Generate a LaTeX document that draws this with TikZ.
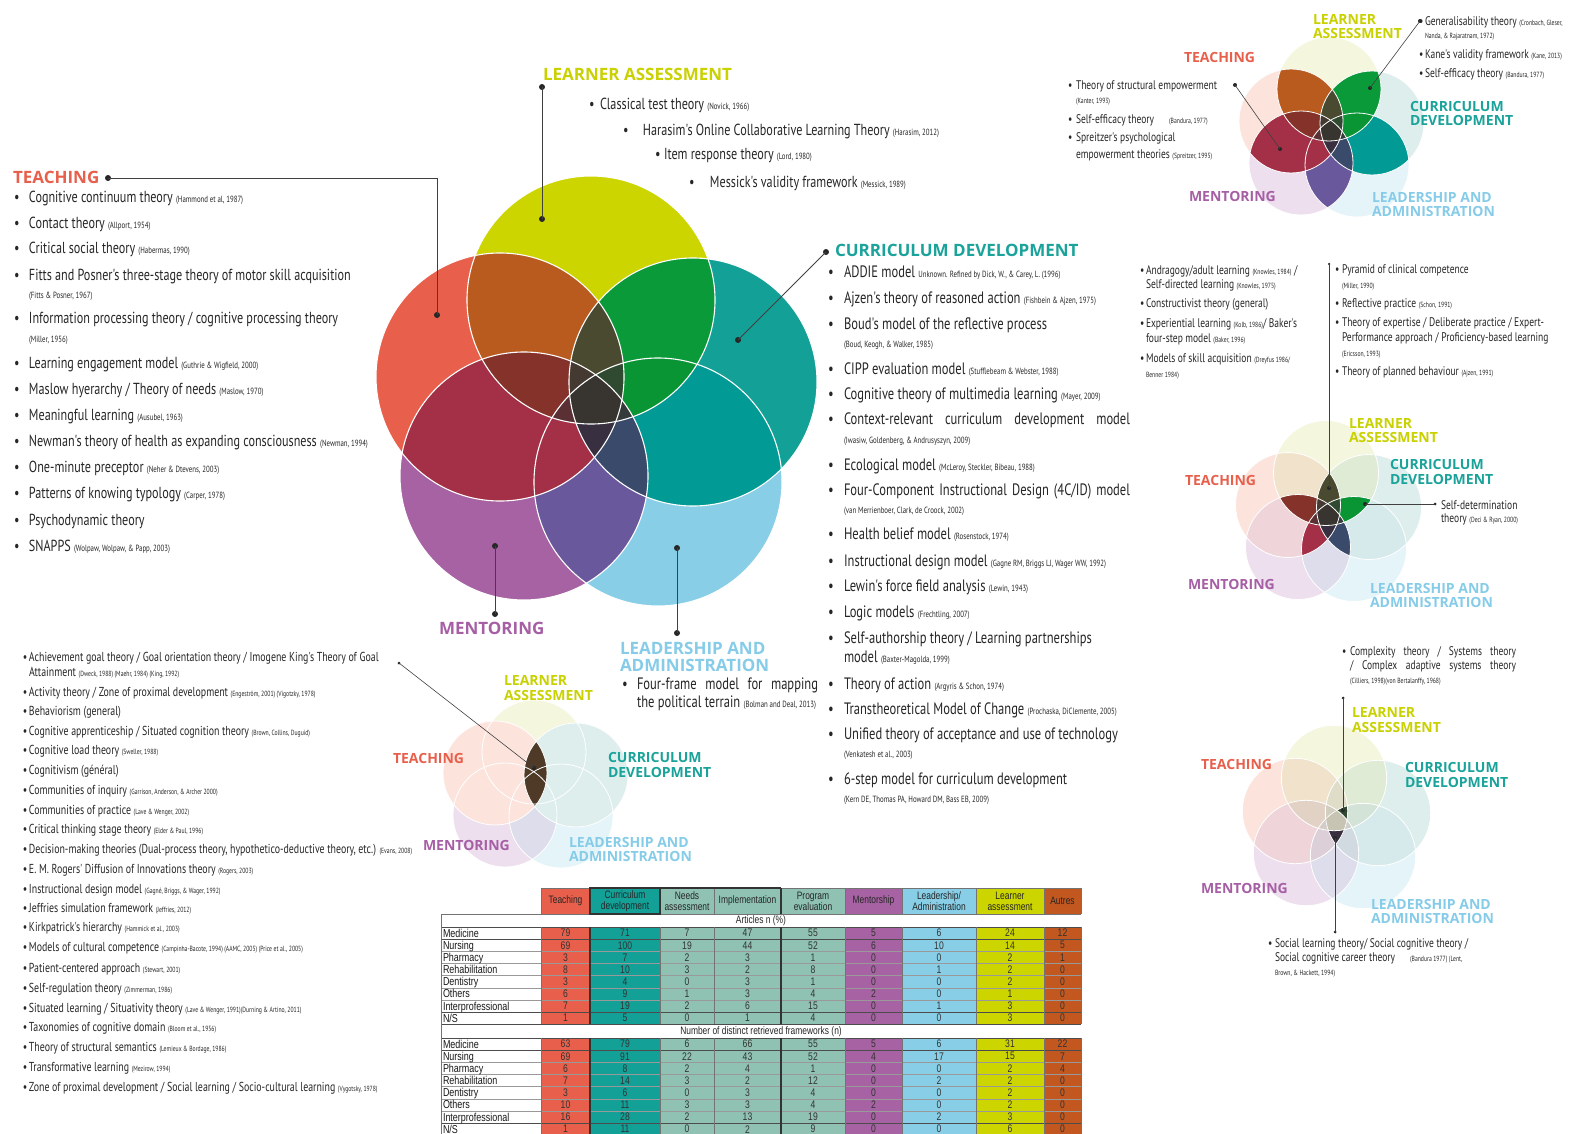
\documentclass[tikz,border=0pt]{standalone}
\usepackage{fontspec}
\setmainfont{PT Sans}
\newfontfamily\lstf[FakeStretch=0.76]{PT Sans}
\newfontfamily\hdf{Open Sans}
\newfontfamily\tabf[FakeStretch=0.78]{Liberation Sans}
\usetikzlibrary{calc}

% saturated palette: single areas and overlaps
\definecolor{SR}{HTML}{E8604C}\definecolor{SY}{HTML}{CDD500}\definecolor{ST}{HTML}{12A097}
\definecolor{SB}{HTML}{87CEE6}\definecolor{SP}{HTML}{A662A2}
\definecolor{SRY}{HTML}{B95A1F}\definecolor{SYT}{HTML}{0B9A3A}\definecolor{STB}{HTML}{019A94}
\definecolor{SBP}{HTML}{6A589C}\definecolor{SPR}{HTML}{A33046}
\definecolor{SRT}{HTML}{4A4A30}\definecolor{SYB}{HTML}{0A9535}\definecolor{STP}{HTML}{3A4A6A}
\definecolor{SBR}{HTML}{A33046}\definecolor{SPY}{HTML}{85322A}
\definecolor{SRYT}{HTML}{4A4A30}\definecolor{SYTB}{HTML}{0A9535}\definecolor{STBP}{HTML}{3A4A6A}
\definecolor{SBPR}{HTML}{A33046}\definecolor{SPRY}{HTML}{85322A}
\definecolor{SRYB}{HTML}{4A3A35}\definecolor{SYTP}{HTML}{3F4235}\definecolor{STBR}{HTML}{353A45}
\definecolor{SBPY}{HTML}{5A3535}\definecolor{SPRT}{HTML}{4A3530}
\definecolor{SRYTB}{HTML}{2F4A30}\definecolor{SYTBP}{HTML}{353A3A}\definecolor{STBPR}{HTML}{383040}
\definecolor{SBPRY}{HTML}{5A3035}\definecolor{SPRYT}{HTML}{443A32}
\definecolor{SALL}{HTML}{383530}
% pale palette
\definecolor{LR}{HTML}{FCE4DD}\definecolor{LY}{HTML}{F4F6DE}\definecolor{LT}{HTML}{DDEEEC}
\definecolor{LB}{HTML}{E5F4F9}\definecolor{LP}{HTML}{EDDFEE}
\definecolor{LRY}{HTML}{F1E2CC}\definecolor{LYT}{HTML}{E0EBD6}\definecolor{LTB}{HTML}{D6EAEC}
\definecolor{LBP}{HTML}{DEDDEB}\definecolor{LPR}{HTML}{EFD4DA}
\definecolor{LRT}{HTML}{E6E3D8}\definecolor{LYB}{HTML}{E2EDE6}\definecolor{LTP}{HTML}{DAE0E4}
\definecolor{LBR}{HTML}{E6DCE0}\definecolor{LPY}{HTML}{EAE0D8}
\definecolor{LRYT}{HTML}{DFDCC8}\definecolor{LYTB}{HTML}{D3E3D8}\definecolor{LTBP}{HTML}{D0DAE0}
\definecolor{LBPR}{HTML}{DCCFD8}\definecolor{LPRY}{HTML}{E2D2C6}
\definecolor{LRYB}{HTML}{DCD6CC}\definecolor{LYTP}{HTML}{D6DACC}\definecolor{LTBR}{HTML}{D2D8D8}
\definecolor{LBPY}{HTML}{DAD4D8}\definecolor{LPRT}{HTML}{DCD2CC}
\definecolor{LRYTB}{HTML}{CED4C4}\definecolor{LYTBP}{HTML}{CCD0CC}\definecolor{LTBPR}{HTML}{CFCCD0}
\definecolor{LBPRY}{HTML}{D4CCC8}\definecolor{LPRYT}{HTML}{D2CEC0}
\definecolor{LALL}{HTML}{C8C4B4}
% other colours
\definecolor{sage}{HTML}{8FC2B2}\definecolor{tbOr}{HTML}{C2571F}\definecolor{lensbrown}{HTML}{4F3A28}
\definecolor{cTe}{HTML}{E8604C}\definecolor{cLA}{HTML}{C9D100}\definecolor{cCD}{HTML}{1AA39A}
\definecolor{cMe}{HTML}{A65FA5}\definecolor{cAd}{HTML}{86CCE8}

\newcommand\mybul[1]{\makebox[#1pt][l]{\textbullet}}
\newcommand\rca[1]{{\fontsize{9}{9.5}\selectfont #1}}
\newcommand\rcb[1]{{\fontsize{7.5}{8}\selectfont #1}}

% filled intersections of 2..5 circles of radius \vr
\newcommand\rgB[3]{\begin{scope}\clip (#2) circle[radius=\vr];\fill[fill=#1] (#3) circle[radius=\vr];\end{scope}}
\newcommand\rgC[4]{\begin{scope}\clip (#2) circle[radius=\vr];\clip (#3) circle[radius=\vr];\fill[fill=#1] (#4) circle[radius=\vr];\end{scope}}
\newcommand\rgD[5]{\begin{scope}\clip (#2) circle[radius=\vr];\clip (#3) circle[radius=\vr];\clip (#4) circle[radius=\vr];\fill[fill=#1] (#5) circle[radius=\vr];\end{scope}}
\newcommand\rgE[6]{\begin{scope}\clip (#2) circle[radius=\vr];\clip (#3) circle[radius=\vr];\clip (#4) circle[radius=\vr];\clip (#5) circle[radius=\vr];\fill[fill=#1] (#6) circle[radius=\vr];\end{scope}}
% five-circle diagram: #1 coordinate prefix, #2..#6 palette (S or L) per overlap depth
\newcommand\drawvenn[6]{%
  \foreach \ia in {R,Y,T,B,P}{\fill[fill=#2\ia] (#1\ia) circle[radius=\vr];}%
  \foreach \ia/\ib in {R/Y,Y/T,T/B,B/P,P/R,R/T,Y/B,T/P,B/R,P/Y}{\rgB{#3\ia\ib}{#1\ia}{#1\ib}}%
  \foreach \ia/\ib/\ic in {R/Y/T,Y/T/B,T/B/P,B/P/R,P/R/Y,R/Y/B,Y/T/P,T/B/R,B/P/Y,P/R/T}{\rgC{#4\ia\ib\ic}{#1\ia}{#1\ib}{#1\ic}}%
  \foreach \ia/\ib/\ic/\id in {R/Y/T/B,Y/T/B/P,T/B/P/R,B/P/R/Y,P/R/Y/T}{\rgD{#5\ia\ib\ic\id}{#1\ia}{#1\ib}{#1\ic}{#1\id}}%
  \rgE{#6ALL}{#1R}{#1Y}{#1T}{#1B}{#1P}%
}
\newcommand\ringvenn[1]{\foreach \ia in {R,Y,T,B,P}{\draw[white,line width=\vw] (#1\ia) circle[radius=\vr];}}

\begin{document}
\begin{tikzpicture}[x=1pt,y=-1pt,
  every node/.style={inner sep=0pt, outer sep=0pt},
  hd/.style={anchor=base west, font=\hdf\bfseries\fontsize{17}{19}\selectfont},
  hs/.style={anchor=base west, font=\hdf\bfseries\fontsize{14}{15}\selectfont},
  li/.style={anchor=base west, font=\lstf\fontsize{16}{18}\selectfont, text=black!85},
  lc/.style={anchor=base west, font=\lstf\fontsize{16.5}{18}\selectfont, text=black!85},
  lb/.style={anchor=base west, font=\lstf\fontsize{13}{15}\selectfont, text=black!85},
  lr/.style={anchor=base west, font=\lstf\fontsize{12.5}{14}\selectfont, text=black!85},
  dotm/.style={circle, fill=black!85, minimum size=6pt},
  dots/.style={circle, fill=black!85, minimum size=4pt},
  lead/.style={draw=black!75, line width=0.8pt},
  th/.style={align=center, font=\tabf\fontsize{10.8}{11}\selectfont, text=black!85},
  tl/.style={anchor=base west, font=\tabf\fontsize{11.5}{12}\selectfont, text=black!90},
  tn/.style={font=\tabf\fontsize{11}{12}\selectfont, text=black!80},
  tcol/.style={draw=black!55, line width=0.4pt},
  tgrp/.style={draw=black!80, line width=1.2pt},
  trow/.style={draw=black!40, line width=0.35pt},
]
\useasboundingbox (0,0) rectangle (1581,1134);
\fill[white] (0,0) rectangle (1581,1134);

% ===== main diagram =====
\def\vr{124pt}\def\vw{1.1pt}
\coordinate (mR) at (500,377); \coordinate (mY) at (591,300); \coordinate (mT) at (693,382);
\coordinate (mP) at (524,476); \coordinate (mB) at (658,482);
\drawvenn{m}{S}{S}{S}{S}{S}
\ringvenn{m}

% ===== small diagrams =====
\def\vr{52pt}\def\vw{0.8pt}
\coordinate (aR) at (1291,121); \coordinate (aY) at (1329,89); \coordinate (aT) at (1372,123);
\coordinate (aP) at (1301,163); \coordinate (aB) at (1357,165);
\drawvenn{a}{L}{S}{S}{S}{S}
\ringvenn{a}

\def\vr{52.5pt}
\coordinate (bR) at (1288,505); \coordinate (bY) at (1326,473); \coordinate (bT) at (1369,507);
\coordinate (bP) at (1298,547); \coordinate (bB) at (1354,549);
\drawvenn{b}{L}{L}{S}{S}{S}
\ringvenn{b}

\def\vr{52.7pt}
\coordinate (cR) at (1295,811); \coordinate (cY) at (1334,778); \coordinate (cT) at (1378,813);
\coordinate (cP) at (1306,853); \coordinate (cB) at (1363,856);
\drawvenn{c}{L}{L}{L}{L}{L}
\rgD{SRYTB}{cR}{cY}{cT}{cB}
\rgD{STBPR}{cT}{cB}{cP}{cR}
\rgE{LALL}{cR}{cY}{cT}{cB}{cP}
\ringvenn{c}

\def\vr{52pt}
\coordinate (dR) at (495,773); \coordinate (dY) at (534,752); \coordinate (dT) at (576,775);
\coordinate (dP) at (505,815); \coordinate (dB) at (561,816);
\drawvenn{d}{L}{L}{L}{L}{L}
\fill[fill=LR] (dR) circle[radius=\vr];
\fill[fill=LT] (dT) circle[radius=\vr];
\rgB{lensbrown}{dR}{dT}
\ringvenn{d}

% ===== leader lines and dots =====
\node[dotm] (dT1) at (108,178) {}; \node[dotm] (dT2) at (437,315) {};
\coordinate (kT) at (437,178);
\draw[lead] (dT1.center) -- (kT) -- (dT2.center);
\node[dotm] (dL1) at (542,87) {}; \node[dotm] (dL2) at (542,219) {};
\draw[lead] (dL1.center) -- (dL2.center);
\node[dotm] (dC1) at (826,252) {}; \node[dotm] (dC2) at (738,340) {};
\draw[lead] (dC1.center) -- (dC2.center);
\node[dotm] (dM1) at (495,546) {}; \node[dotm] (dM2) at (495,614) {};
\draw[lead] (dM1.center) -- (dM2.center);
\node[dotm] (dA1) at (677,548) {}; \node[dotm] (dA2) at (677,633) {};
\draw[lead] (dA1.center) -- (dA2.center);

\node[dots] (ea1) at (1420,21) {}; \node[dots] (ea2) at (1370,88) {};
\draw[lead, line width=0.6pt] (ea1.center) -- (ea2.center);
\node[dots] (eb1) at (1235,85) {}; \node[dots] (eb2) at (1280,149) {};
\draw[lead, line width=0.6pt] (eb1.center) -- (eb2.center);
\node[dots, minimum size=2.5pt] (fa1) at (1329,264) {}; \node[dots] (fa2) at (1329,488) {};
\draw[lead, line width=0.6pt] (fa1.center) -- (fa2.center);
\node[dots] (fb1) at (1365,504) {}; \node[dots, minimum size=3pt] (fb2) at (1435,504) {};
\draw[lead, line width=0.6pt] (fb1.center) -- (fb2.center);
\node[dots, minimum size=3pt] (ga1) at (1343,698) {}; \node[dots] (ga2) at (1343,810) {};
\draw[lead, line width=0.6pt] (ga1.center) -- (ga2.center);
\node[dots, minimum size=3pt] (gb1) at (1335,932) {}; \node[dots] (gb2) at (1335,838) {};
\draw[lead, line width=0.6pt] (gb1.center) -- (gb2.center);
\node[dots, minimum size=3pt] (ha1) at (399,663) {}; \node[dots] (ha2) at (534,768) {};
\draw[lead, line width=0.6pt] (ha1.center) -- (ha2.center);

% ===== main headings =====
\node[hd, text=cTe] (hTe) at (13,184) {TEACHING};
\node[hd, text=cLA] (hLA) at (543,81) {LEARNER ASSESSMENT};
\node[hd, text=cCD] (hCD) at (835,256) {CURRICULUM DEVELOPMENT};
\node[hd, text=cMe] (hMe) at (439,634) {MENTORING};
\node[hd, text=cAd] (hAd1) at (620,654) {LEADERSHIP AND};
\node[hd, text=cAd] (hAd2) at (620,671) {ADMINISTRATION};

% ===== small diagram labels =====
\node[hs, text=cLA] (aL1) at (1313,25) {LEARNER};
\node[hs, text=cLA] (aL2) at (1313,39) {ASSESSMENT};
\node[hs, text=cTe] (aTe) at (1184,63) {TEACHING};
\node[hs, text=cCD] (aC1) at (1410,112) {CURRICULUM};
\node[hs, text=cCD] (aC2) at (1410,126) {DEVELOPMENT};
\node[hs, text=cMe] (aMe) at (1189,201) {MENTORING};
\node[hs, text=cAd] (aA1) at (1372,202) {LEADERSHIP AND};
\node[hs, text=cAd] (aA2) at (1372,216) {ADMINISTRATION};

\node[hs, text=cLA] (bL1) at (1349,428) {LEARNER};
\node[hs, text=cLA] (bL2) at (1349,442) {ASSESSMENT};
\node[hs, text=cTe] (bTe) at (1185,485) {TEACHING};
\node[hs, text=cCD] (bC1) at (1390,469) {CURRICULUM};
\node[hs, text=cCD] (bC2) at (1390,484) {DEVELOPMENT};
\node[hs, text=cMe] (bMe) at (1188,589) {MENTORING};
\node[hs, text=cAd] (bA1) at (1370,593) {LEADERSHIP AND};
\node[hs, text=cAd] (bA2) at (1370,607) {ADMINISTRATION};

\node[hs, text=cLA] (cL1) at (1352,717) {LEARNER};
\node[hs, text=cLA] (cL2) at (1352,732) {ASSESSMENT};
\node[hs, text=cTe] (cTe) at (1201,769) {TEACHING};
\node[hs, text=cCD] (cC1) at (1405,772) {CURRICULUM};
\node[hs, text=cCD] (cC2) at (1405,787) {DEVELOPMENT};
\node[hs, text=cMe] (cMe) at (1201,893) {MENTORING};
\node[hs, text=cAd] (cA1) at (1371,909) {LEADERSHIP AND};
\node[hs, text=cAd] (cA2) at (1371,923) {ADMINISTRATION};

\node[hs, text=cLA] (dL1t) at (504,685) {LEARNER};
\node[hs, text=cLA] (dL2t) at (504,700) {ASSESSMENT};
\node[hs, text=cTe] (dTe) at (393,763) {TEACHING};
\node[hs, text=cCD] (dC1t) at (608,762) {CURRICULUM};
\node[hs, text=cCD] (dC2t) at (608,777) {DEVELOPMENT};
\node[hs, text=cMe] (dMe) at (423,850) {MENTORING};
\node[hs, text=cAd] (dA1t) at (569,847) {LEADERSHIP AND};
\node[hs, text=cAd] (dA2t) at (569,861) {ADMINISTRATION};

% ===== teaching list =====
\node[li] (t1) at (14,202) {\mybul{15}Cognitive continuum theory \rca{(Hammond et al, 1987)}};
\node[li] (t2) at (14,228) {\mybul{15}Contact theory \rca{(Allport, 1954)}};
\node[li] (t3) at (14,253) {\mybul{15}Critical social theory \rca{(Habermas, 1990)}};
\node[li] (t4) at (14,280) {\mybul{15}Fitts and Posner's three-stage theory of motor skill acquisition};
\node[li] (t4c) at (29,298) {\rca{(Fitts \& Posner, 1967)}};
\node[li] (t5) at (14,323) {\mybul{15}Information processing theory / cognitive processing theory};
\node[li] (t5c) at (29,342) {\rca{(Miller, 1956)}};
\node[li] (t6) at (14,368) {\mybul{15}Learning engagement model \rca{(Guthrie \& Wigfield, 2000)}};
\node[li] (t7) at (14,394) {\mybul{15}Maslow hyerarchy / Theory of needs \rca{(Maslow, 1970)}};
\node[li] (t8) at (14,420) {\mybul{15}Meaningful learning \rca{(Ausubel, 1963)}};
\node[li] (t9) at (14,446) {\mybul{15}Newman's theory of health as expanding consciousness \rca{(Newman, 1994)}};
\node[li] (t10) at (14,472) {\mybul{15}One-minute preceptor \rca{(Neher \& Dtevens, 2003)}};
\node[li] (t11) at (14,498) {\mybul{15}Patterns of knowing typology \rca{(Carper, 1978)}};
\node[li] (t12) at (14,525) {\mybul{15}Psychodynamic theory};
\node[li] (t13) at (14,551) {\mybul{15}SNAPPS \rca{(Wolpaw, Wolpaw, \& Papp, 2003)}};

% ===== learner assessment list =====
\node[li] (l1) at (589,110) {\mybul{11}Classical test theory \rca{(Novick, 1966)}};
\node[li] (l2) at (623,136) {\mybul{20}Harasim's Online Collaborative Learning Theory \rca{(Harasim, 2012)}};
\node[li] (l3) at (655,160) {\mybul{9}Item response theory \rca{(Lord, 1980)}};
\node[li] (l4) at (689,187) {\mybul{21}Messick's validity framework \rca{(Messick, 1989)}};

% ===== curriculum development list =====
\node[lc] (c1) at (828,277) {\mybul{16}ADDIE model \rca{Unknown. Refined by Dick, W., \& Carey, L. (1996)}};
\node[lc] (c2) at (828,303) {\mybul{16}Ajzen's theory of reasoned action \rca{(Fishbein \& Ajzen, 1975)}};
\node[lc] (c3) at (828,329) {\mybul{16}Boud's model of the reflective process};
\node[lc] (c3c) at (844,347) {\rca{(Boud, Keogh, \& Walker, 1985)}};
\node[lc] (c4) at (828,374) {\mybul{16}CIPP evaluation model \rca{(Stufflebeam \& Webster, 1988)}};
\node[lc] (c5) at (828,399) {\mybul{16}Cognitive theory of multimedia learning \rca{(Mayer, 2009)}};
\node[lc] (c6) at (828,424) {\mybul{16}\makebox[286pt][s]{Context-relevant curriculum development model}};
\node[lc] (c6c) at (844,443) {\rca{(Iwasiw, Goldenberg, \& Andrusyszyn, 2009)}};
\node[lc] (c7) at (828,470) {\mybul{16}Ecological model \rca{(McLeroy, Steckler, Bibeau, 1988)}};
\node[lc] (c8) at (828,495) {\mybul{16}\makebox[286pt][s]{Four-Component Instructional Design (4C/ID) model}};
\node[lc] (c8c) at (844,513) {\rca{(van Merrienboer, Clark, de Croock, 2002)}};
\node[lc] (c9) at (828,539) {\mybul{16}Health belief model \rca{(Rosenstock, 1974)}};
\node[lc] (c10) at (828,566) {\mybul{16}Instructional design model \rca{(Gagne RM, Briggs LJ, Wager WW, 1992)}};
\node[lc] (c11) at (828,591) {\mybul{16}Lewin's force field analysis \rca{(Lewin, 1943)}};
\node[lc] (c12) at (828,617) {\mybul{16}Logic models \rca{(Frechtling, 2007)}};
\node[lc] (c13) at (828,643) {\mybul{16}Self-authorship theory / Learning partnerships};
\node[lc] (c13b) at (844,662) {model \rca{(Baxter-Magolda, 1999)}};
\node[lc] (c14) at (828,689) {\mybul{16}Theory of action \rca{(Argyris \& Schon, 1974)}};
\node[lc] (c15) at (828,714) {\mybul{16}Transtheoretical Model of Change \rca{(Prochaska, DiClemente, 2005)}};
\node[lc] (c16) at (828,739) {\mybul{16}Unified theory of acceptance and use of technology};
\node[lc] (c16c) at (844,757) {\rca{(Venkatesh et al., 2003)}};
\node[lc] (c17) at (828,784) {\mybul{16}6-step model for curriculum development};
\node[lc] (c17c) at (844,802) {\rca{(Kern DE, Thomas PA, Howard DM, Bass EB, 2009)}};

% ===== leadership list =====
\node[lc] (ff1) at (622,689) {\mybul{15}\makebox[181pt][s]{Four-frame model for mapping}};
\node[lc] (ff1b) at (637,707) {the political terrain \rca{(Bolman and Deal, 2013)}};

% ===== list under the two-area diagram =====
\node[lb] (b1) at (23,661.5) {\mybul{6}Achievement goal theory / Goal orientation theory / Imogene King's Theory of Goal};
\node[lb] (b1b) at (29,676.5) {Attainment \rcb{(Dweck, 1988) (Maehr, 1984) (King, 1992)}};
\node[lb] (b2) at (23,696.5) {\mybul{6}Activity theory / Zone of proximal development \rcb{(Engeström, 2001) (Vigotzky, 1978)}};
\node[lb] (b3) at (23,715.5) {\mybul{6}Behaviorism (general)};
\node[lb] (b4) at (23,735.5) {\mybul{6}Cognitive apprenticeship / Situated cognition theory \rcb{(Brown, Collins, Duguid)}};
\node[lb] (b5) at (23,754.5) {\mybul{6}Cognitive load theory \rcb{(Sweller, 1988)}};
\node[lb] (b6) at (23,774.5) {\mybul{6}Cognitivism (général)};
\node[lb] (b7) at (23,794.5) {\mybul{6}Communities of inquiry \rcb{(Garrison, Anderson, \& Archer 2000)}};
\node[lb] (b8) at (23,814.5) {\mybul{6}Communities of practice \rcb{(Lave \& Wenger, 2002)}};
\node[lb] (b9) at (23,833.5) {\mybul{6}Critical thinking stage theory \rcb{(Elder \& Paul, 1996)}};
\node[lb] (b10) at (23,853.5) {\mybul{6}Decision-making theories (Dual-process theory, hypothetico-deductive theory, etc.) \rcb{(Evans, 2008)}};
\node[lb] (b11) at (23,873.5) {\mybul{6}E. M. Rogers' Diffusion of Innovations theory \rcb{(Rogers, 2003)}};
\node[lb] (b12) at (23,893.5) {\mybul{6}Instructional design model \rcb{(Gagné, Briggs, \& Wager, 1992)}};
\node[lb] (b13) at (23,912.5) {\mybul{6}Jeffries simulation framework \rcb{(Jeffries, 2012)}};
\node[lb] (b14) at (23,931.5) {\mybul{6}Kirkpatrick's hierarchy \rcb{(Hammick et al., 2003)}};
\node[lb] (b15) at (23,951.5) {\mybul{6}Models of cultural competence \rcb{(Campinha-Bacote, 1994) (AAMC, 2005) (Price et al., 2005)}};
\node[lb] (b16) at (23,972.5) {\mybul{6}Patient-centered approach \rcb{(Stewart, 2001)}};
\node[lb] (b17) at (23,992.5) {\mybul{6}Self-regulation theory \rcb{(Zimmerman, 1986)}};
\node[lb] (b18) at (23,1012.5) {\mybul{6}Situated learning / Situativity theory \rcb{(Lave \& Wenger, 1991)(Durning \& Artino, 2011)}};
\node[lb] (b19) at (23,1031.5) {\mybul{6}Taxonomies of cognitive domain \rcb{(Bloom et al., 1956)}};
\node[lb] (b20) at (23,1051.5) {\mybul{6}Theory of structural semantics \rcb{(Lemieux \& Bordage, 1986)}};
\node[lb] (b21) at (23,1071.5) {\mybul{6}Transformative learning \rcb{(Mezirow, 1994)}};
\node[lb] (b22) at (23,1091.5) {\mybul{6}Zone of proximal development / Social learning / Socio-cultural learning \rcb{(Vygotsky, 1978)}};

% ===== texts of the top right diagram =====
\node[lr] (ta1) at (1419,25.5) {\mybul{6}Generalisability theory \rcb{(Cronbach, Gleser,}};
\node[lr] (ta1b) at (1425,38.5) {\rcb{Nanda, \& Rajaratnam, 1972)}};
\node[lr] (ta2) at (1419,58.5) {\mybul{6}Kane's validity framework \rcb{(Kane, 2013)}};
\node[lr] (ta3) at (1419,77.5) {\mybul{6}Self-efficacy theory \rcb{(Bandura, 1977)}};
\node[lr] (tb1) at (1068,89.5) {\mybul{8}Theory of structural empowerment};
\node[lr] (tb1b) at (1076,103.5) {\rcb{(Kanter, 1993)}};
\node[lr] (tb2) at (1068,123.5) {\mybul{8}Self-efficacy theory \quad\rcb{(Bandura, 1977)}};
\node[lr] (tb3) at (1068,141.5) {\mybul{8}Spreitzer's psychological};
\node[lr] (tb3b) at (1076,158.5) {empowerment theories \rcb{(Spreitzer, 1995)}};

% ===== texts of the middle right diagram =====
\node[lr] (ma1) at (1140,274.5) {\mybul{6}Andragogy/adult learning \rcb{(Knowles, 1984)} /};
\node[lr] (ma1b) at (1146,288.5) {Self-directed learning \rcb{(Knowles, 1975)}};
\node[lr] (ma2) at (1140,307.5) {\mybul{6}Constructivist theory (general)};
\node[lr] (ma3) at (1140,327.5) {\mybul{6}Experiential learning \rcb{(Kolb, 1986)}/ Baker's};
\node[lr] (ma3b) at (1146,342.5) {four-step model \rcb{(Baker, 1996)}};
\node[lr] (ma4) at (1140,362.5) {\mybul{6}Models of skill acquisition \rcb{(Dreyfus 1986/}};
\node[lr] (ma4b) at (1146,377.5) {\rcb{Benner 1984)}};
\node[lr] (mb1) at (1335,273.5) {\mybul{7}Pyramid of clinical competence};
\node[lr] (mb1b) at (1342,288.5) {\rcb{(Miller, 1990)}};
\node[lr] (mb2) at (1335,307.5) {\mybul{7}Reflective practice \rcb{(Schon, 1991)}};
\node[lr] (mb3) at (1335,326.5) {\mybul{7}Theory of expertise / Deliberate practice / Expert-};
\node[lr] (mb3b) at (1342,341.5) {Performance approach / Proficiency-based learning};
\node[lr] (mb3c) at (1342,356.5) {\rcb{(Ericsson, 1993)}};
\node[lr] (mb4) at (1335,375.5) {\mybul{7}Theory of planned behaviour \rcb{(Ajzen, 1991)}};
\node[lr] (sd1) at (1441,509.5) {Self-determination};
\node[lr] (sd2) at (1441,522.5) {theory \rcb{(Deci \& Ryan, 2000)}};

% ===== texts of the bottom right diagram =====
\node[lr] (ra1) at (1342,655.5) {\mybul{8}\makebox[166pt][s]{Complexity theory / Systems theory}};
\node[lr] (ra1b) at (1350,669.5) {\makebox[166pt][s]{/ Complex adaptive systems theory}};
\node[lr] (ra1c) at (1350,683) {\rcb{(Cilliers, 1998)(von Bertalanffy, 1968)}};
\node[lr] (rb1) at (1268,947.5) {\mybul{7}Social learning theory/ Social cognitive theory /};
\node[lr] (rb1b) at (1275,961.5) {Social cognitive career theory \quad\rcb{(Bandura 1977) (Lent,}};
\node[lr] (rb1c) at (1275,975.5) {\rcb{Brown, \& Hackett, 1994)}};

% ===== table =====
\foreach \xl/\xr/\cc in {541/590/SR, 590/660/ST, 660/714/sage, 714/781/sage, 781/845/sage,
  845/902/SP, 902/976/SB, 976/1044/SY, 1044/1081/tbOr}{\fill[fill=\cc] (\xl,888) rectangle (\xr,1135);}
\fill[white] (441,914) rectangle (1081,927);
\fill[white] (441,1024.2) rectangle (1081,1038);
\foreach \i in {0,...,8}{\draw[trow] (441,{927+12.15*\i}) -- (1081,{927+12.15*\i});
  \draw[trow] (441,{1038+12.15*\i}) -- (1081,{1038+12.15*\i});}
\draw[tcol] (541,888) -- (1081,888);
\draw[tcol] (441,914) -- (1081,914);
\foreach \yy in {927,939.15,1011.9,1024.2,1038,1050.15,1122.9}{\draw[black!70, line width=0.7pt] (441,\yy) -- (1081,\yy);}
\foreach \x in {541,660,714,845,902,976,1044,1081}{\draw[tcol] (\x,888) -- (\x,914) (\x,927) -- (\x,1024.2) (\x,1038) -- (\x,1135);}
\draw[tcol] (441,914) -- (441,1135);
\foreach \x in {590,781}{\draw[tgrp] (\x,888) -- (\x,914) (\x,927) -- (\x,1024.2) (\x,1038) -- (\x,1135);}
\draw[tgrp] (590,888) -- (781,888);
\draw[tgrp] (590,888) rectangle (660,914);

\node[th] (h1) at (565.5,901) {Teaching};
\node[th] (h2) at (625,901) {Curriculum\\development};
\node[th] (h3) at (687,901) {Needs\\assessment};
\node[th] (h4) at (747.5,901) {Implementation};
\node[th] (h5) at (813,901) {Program\\evaluation};
\node[th] (h6) at (873.5,901) {Mentorship};
\node[th] (h7) at (939,901) {Leadership/\\Administration};
\node[th] (h8) at (1010,901) {Learner\\assessment};
\node[th] (h9) at (1062.5,901) {Autres};
\node[th] (secA) at (761,920.5) {Articles n (\%)};
\node[th] (secB) at (761,1031.2) {Number of distinct retrieved frameworks (n)};

\foreach \lab/\vals [count=\r] in {Medicine/{79,71,7,47,55,5,6,24,12}, Nursing/{69,100,19,44,52,6,10,14,5},
  Pharmacy/{3,7,2,3,1,0,0,2,1}, Rehabilitation/{8,10,3,2,8,0,1,2,0}, Dentistry/{3,4,0,3,1,0,0,2,0},
  Others/{6,9,1,3,4,2,0,1,0}, Interprofessional/{7,19,2,6,15,0,1,3,0}, {N/S}/{1,5,0,1,4,0,0,3,0}}{
  \node[tl] (ra\r) at (443,{933.1+12.15*(\r-1)+4}) {\lab};
  \foreach \v [count=\k] in \vals {
    \pgfmathsetmacro\xm{{565.5,625,687,747.5,813,873.5,939,1010,1062.5}[\k-1]}
    \node[tn] (na\r-\k) at (\xm,{933.1+12.15*(\r-1)}) {\v};
  }
}
\foreach \lab/\vals [count=\r] in {Medicine/{63,79,6,66,55,5,6,31,22}, Nursing/{69,91,22,43,52,4,17,15,7},
  Pharmacy/{6,8,2,4,1,0,0,2,4}, Rehabilitation/{7,14,3,2,12,0,2,2,0}, Dentistry/{3,6,0,3,4,0,0,2,0},
  Others/{10,11,3,3,4,2,0,2,0}, Interprofessional/{16,28,2,13,19,0,2,3,0}, {N/S}/{1,11,0,2,9,0,0,6,0}}{
  \node[tl] (rb\r) at (443,{1044.1+12.15*(\r-1)+4}) {\lab};
  \foreach \v [count=\k] in \vals {
    \pgfmathsetmacro\xm{{565.5,625,687,747.5,813,873.5,939,1010,1062.5}[\k-1]}
    \node[tn] (nb\r-\k) at (\xm,{1044.1+12.15*(\r-1)}) {\v};
  }
}
\end{tikzpicture}
\end{document}
